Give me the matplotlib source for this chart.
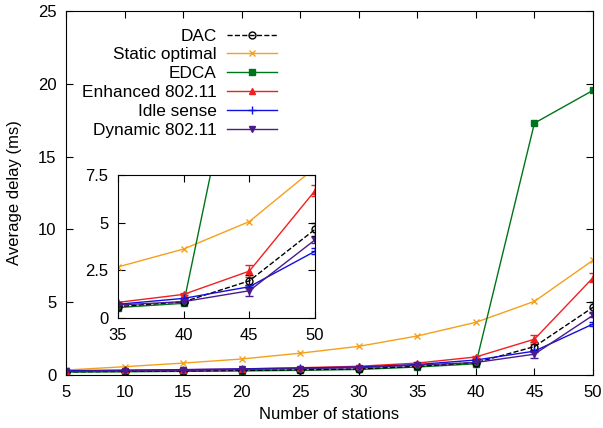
import numpy as np
import matplotlib
matplotlib.use("Agg")
import matplotlib.pyplot as plt
from matplotlib.lines import Line2D

plt.rcParams['font.family'] = ['Liberation Sans', 'DejaVu Sans']
plt.rcParams['font.size'] = 12

stations = [5, 10, 15, 20, 25, 30, 35, 40, 45, 50]

dac = [0.22, 0.25, 0.28, 0.32, 0.36, 0.42, 0.60, 0.85, 1.95, 4.65]
dac_err = [0.02, 0.02, 0.02, 0.02, 0.02, 0.03, 0.04, 0.05, 0.30, 0.35]
static_opt = [0.34, 0.57, 0.82, 1.10, 1.50, 1.97, 2.68, 3.62, 5.06, 7.88]
edca = [0.20, 0.22, 0.25, 0.28, 0.32, 0.38, 0.55, 0.77, 17.30, 19.55]
enhanced = [0.28, 0.32, 0.36, 0.42, 0.50, 0.60, 0.82, 1.24, 2.46, 6.68]
enhanced_err = [0.02, 0.02, 0.02, 0.02, 0.03, 0.03, 0.04, 0.05, 0.30, 0.30]
idle = [0.30, 0.33, 0.37, 0.42, 0.48, 0.55, 0.72, 1.03, 1.64, 3.50]
idle_err = [0.02, 0.02, 0.02, 0.02, 0.02, 0.02, 0.03, 0.04, 0.08, 0.15]
dynamic = [0.25, 0.28, 0.32, 0.38, 0.44, 0.50, 0.68, 0.86, 1.43, 4.10]
dynamic_err = [0.02, 0.02, 0.02, 0.02, 0.02, 0.02, 0.03, 0.04, 0.28, 0.15]

series = [
    ("DAC", dac, dac_err, dict(color='black', ls='--', marker='o', mfc='none', ms=5)),
    ("Static optimal", static_opt, None, dict(color='#f5a01a', ls='-', marker='x', ms=5)),
    ("EDCA", edca, None, dict(color='#00741a', ls='-', marker='s', ms=5)),
    ("Enhanced 802.11", enhanced, enhanced_err, dict(color='#f02020', ls='-', marker='^', ms=5)),
    ("Idle sense", idle, idle_err, dict(color='#1010e0', ls='-', marker='+', ms=6)),
    ("Dynamic 802.11", dynamic, dynamic_err, dict(color='#4b1a8c', ls='-', marker='v', ms=5)),
]


def draw(ax):
    for name, y, err, st in series:
        if err is not None:
            ax.errorbar(stations, y, yerr=err, lw=1, capsize=3,
                        elinewidth=1, mew=1, **st)
        else:
            ax.plot(stations, y, lw=1, mew=1, **st)
    ax.tick_params(direction='in', top=True, right=True, length=5, pad=7)


fig = plt.figure(figsize=(6.03, 4.28), dpi=100)
ax = fig.add_axes([0.1095, 0.1238, 0.8739, 0.8505])
draw(ax)
ax.set_xlim(5, 50)
ax.set_ylim(0, 25)
ax.set_xticks(stations)
ax.set_yticks([0, 5, 10, 15, 20, 25])
ax.set_xlabel("Number of stations", labelpad=5)
ax.set_ylabel("Average delay (ms)", labelpad=11)

proxies = [Line2D([], [], lw=1, mew=1, **st) for _, _, _, st in series]
leg = ax.legend(proxies, [s[0] for s in series], loc='upper left',
                bbox_to_anchor=(0.03, 0.952), frameon=False, fontsize=12.4,
                markerfirst=False, handlelength=2.9, labelspacing=0.22,
                handletextpad=0.6, borderaxespad=0, borderpad=0)
# right-align the label column like gnuplot's key
for col in leg._legend_handle_box.get_children():
    col.align = 'right'

ins = fig.add_axes([0.1957, 0.257, 0.3267, 0.334])
draw(ins)
ins.set_xlim(35, 50)
ins.set_ylim(0, 7.5)
ins.set_xticks([35, 40, 45, 50])
ins.set_yticks([0, 2.5, 5, 7.5])
ins.set_yticklabels(["0", "2.5", "5", "7.5"])

fig.savefig("out.png", dpi=100)
